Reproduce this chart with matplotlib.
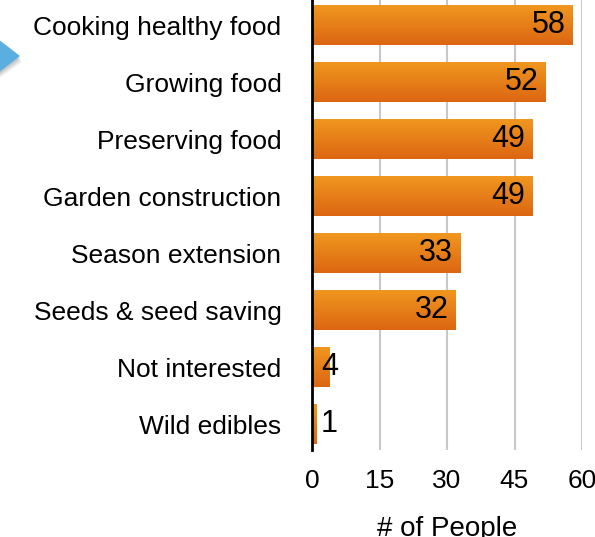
import numpy as np
import matplotlib.pyplot as plt
from matplotlib.patches import Polygon
from matplotlib.colors import LinearSegmentedColormap

plt.rcParams['font.family'] = ['Liberation Sans', 'DejaVu Sans']

# data (top to bottom)
categories = ['Cooking healthy food', 'Growing food', 'Preserving food',
              'Garden construction', 'Season extension', 'Seeds & seed saving',
              'Not interested', 'Wild edibles']
counts = [58, 52, 49, 49, 33, 32, 4, 1]
xticks = [0, 15, 30, 45, 60]

W, H = 595, 537
fig = plt.figure(figsize=(W / 100, H / 100), dpi=100)
# axes in pixel terms: x 312..582, y bottom 450, 57 px per category
ax = fig.add_axes([312 / W, (H - 450) / H, 270 / W, 456 / H])

n = len(categories)
ypos = np.arange(n)[::-1]
bar_h = 0.7

# vertical gradient per bar
grad = np.linspace(0, 1, 64).reshape(-1, 1)
cmap = LinearSegmentedColormap.from_list('org', ['#DC6612', '#F0971F'])
bars = ax.barh(ypos, counts, height=bar_h, color='none', edgecolor='none', zorder=2)
for b in bars:
    x0, y0 = b.get_x(), b.get_y()
    w, h = b.get_width(), b.get_height()
    ax.imshow(grad, extent=[x0, x0 + w, y0, y0 + h], origin='lower',
              cmap=cmap, aspect='auto', zorder=2)

for y, v in zip(ypos, counts):
    if v >= 10:
        ax.text(v - 1.6, y, str(v), ha='right', va='center', fontsize=22, zorder=3)
    else:
        ax.text(2.0, y, str(v), ha='left', va='center', fontsize=22, zorder=3)

ax.set_xlim(0, 60)
ax.set_ylim(-0.45, 7.55)
ax.set_xticks(xticks)
ax.set_xticklabels([str(t) for t in xticks], fontsize=19)
ax.set_yticks(ypos)
ax.set_yticklabels(categories, fontsize=19)
ax.tick_params(axis='both', length=0)
ax.tick_params(axis='y', pad=22)
ax.tick_params(axis='x', pad=14)
ax.xaxis.grid(True, color='#C8C8C8', linewidth=1.5, zorder=0)
ax.set_axisbelow(True)
for s in ['top', 'right', 'bottom']:
    ax.spines[s].set_visible(False)
ax.spines['left'].set_linewidth(2)
ax.spines['left'].set_color('black')
ax.spines['left'].set_zorder(4)
ax.set_xlabel('# of People', fontsize=20, labelpad=16)

# blue arrow decoration at left, with a soft shadow
def px(x, y):
    return (x / W, 1 - y / H)

for k, a in enumerate([0.10, 0.12, 0.15]):
    off = 6 - 2 * k
    sh = Polygon([px(-2, 40 + off), px(20 + off * 0.3, 56 + off), px(-2, 73 + off)],
                 closed=True, transform=fig.transFigure, facecolor='#555555',
                 alpha=a, edgecolor='none')
    fig.patches.append(sh)
arrow = Polygon([px(-2, 39), px(20, 56), px(-2, 73)], closed=True,
                transform=fig.transFigure, facecolor='#5AAEE0', edgecolor='none')
fig.patches.append(arrow)

fig.savefig('out.png', dpi=100)
